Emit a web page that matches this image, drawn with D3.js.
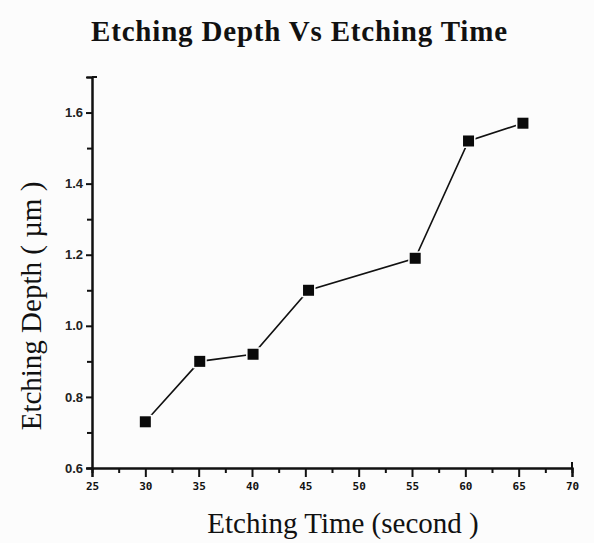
<!DOCTYPE html>
<html>
<head>
<meta charset="utf-8">
<script src="https://cdn.jsdelivr.net/npm/d3@7"></script>
<style>
  body { margin: 0; background: #fcfcfc; }
  svg { display: block; }
</style>
</head>
<body>
<div id="chart"></div>
<script>
// etching time (s) and measured depth (um)
var times  = [30, 35.1, 40.1, 45.3, 55.3, 60.3, 65.4];
var depths = [0.73, 0.90, 0.92, 1.10, 1.19, 1.52, 1.57];
var xTicks = [25, 30, 35, 40, 45, 50, 55, 60, 65, 70];
var yTicks = [0.6, 0.8, 1.0, 1.2, 1.4, 1.6];

var width = 594, height = 543;
var margin = {left: 92, right: 22, top: 77, bottom: 75};
var plotw = width - margin.left - margin.right,
    ploth = height - margin.top - margin.bottom;

var svg = d3.select("#chart")
            .append("svg")
            .attr("width", width)
            .attr("height", height);

svg.append("text")
   .attr("x", 299)
   .attr("y", 41)
   .attr("text-anchor", "middle")
   .attr("font-size", "29px")
   .attr("font-weight", "bold")
   .attr("font-family", "Liberation Serif, Times New Roman, serif")
   .attr("textLength", 416)
   .attr("fill", "#111")
   .text("Etching Depth Vs Etching Time");

var canvas = svg.append("g")
            .attr("transform", "translate(" + margin.left + "," + margin.top + ")");

var x = d3.scaleLinear().domain([25, 70]).range([0, plotw]),
    y = d3.scaleLinear().domain([0.6, 1.7]).range([ploth, 0]);

// minor ticks
var xMinor = d3.range(27.5, 70, 5), yMinor = d3.range(0.7, 1.65, 0.2);

var xAxis = canvas.append("g")
        .attr("transform", "translate(0," + ploth + ")")
        .call(d3.axisBottom(x).tickValues(xTicks).tickSize(9).tickFormat(d3.format("d")));
xAxis.append("g").call(d3.axisBottom(x).tickValues(xMinor).tickSize(5).tickFormat(""));
xAxis.append("line").attr("x1", plotw).attr("x2", plotw).attr("y1", 0).attr("y2", -6);
xAxis.selectAll("text")
        .attr("font-family", "DejaVu Sans Mono, monospace")
        .attr("font-weight", "bold")
        .attr("font-size", "11px")
        .attr("dy", "0.9em")
        .attr("fill", "#111");

var yAxis = canvas.append("g")
        .call(d3.axisLeft(y).tickValues(yTicks).tickSize(6).tickFormat(d3.format(".1f")));
yAxis.append("g").call(d3.axisLeft(y).tickValues(yMinor).tickSize(5).tickFormat(""));
yAxis.append("line").attr("x1", 0).attr("x2", 5).attr("y1", 0).attr("y2", 0);
yAxis.selectAll("text")
        .attr("font-family", "Liberation Sans, Arial, sans-serif")
        .attr("font-size", "13px")
        .attr("font-weight", "bold")
        .attr("fill", "#222");

canvas.selectAll(".domain, .tick line, g > line")
        .attr("stroke", "#111")
        .attr("stroke-width", 2);

svg.append("text")
   .attr("transform", "translate(41," + 306 + ") rotate(-90)")
   .attr("text-anchor", "middle")
   .attr("font-size", "29px")
   .attr("font-family", "Liberation Serif, Times New Roman, serif")
   .attr("fill", "#111")
   .text("Etching Depth ( \u00b5m )");

svg.append("text")
   .attr("x", 343)
   .attr("y", 533)
   .attr("text-anchor", "middle")
   .attr("font-size", "29px")
   .attr("font-family", "Liberation Serif, Times New Roman, serif")
   .attr("fill", "#111")
   .text("Etching Time (second )");

var data = times.map(function(t, i) { return {t: t, d: depths[i]}; });

canvas.append("path")
        .datum(data)
        .attr("fill", "none")
        .attr("stroke", "#111")
        .attr("stroke-width", 1.6)
        .attr("d", d3.line()
                .x(function(d) { return x(d.t); })
                .y(function(d) { return y(d.d); }));

canvas.selectAll(".pt")
        .data(data)
        .enter()
        .append("rect")
        .attr("class", "pt")
        .attr("x", function(d) { return x(d.t) - 5.5; })
        .attr("y", function(d) { return y(d.d) - 5.5; })
        .attr("width", 11)
        .attr("height", 11)
        .attr("fill", "#0a0a0a")
        .attr("stroke", "#fcfcfc")
        .attr("stroke-width", 3)
        .attr("paint-order", "stroke");
</script>
</body>
</html>
